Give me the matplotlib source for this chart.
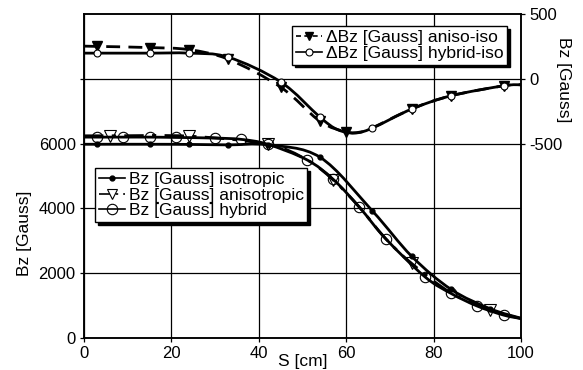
import matplotlib
matplotlib.use('Agg')
import matplotlib.pyplot as plt
from matplotlib.path import Path
from matplotlib.patches import PathPatch
from matplotlib.lines import Line2D
import numpy as np

plt.rcParams['font.family'] = ['Liberation Sans', 'DejaVu Sans']
plt.rcParams['font.size'] = 12

# ---------------- data (left axis: Bz [Gauss]) ----------------
S_iso = [0, 3, 15, 24, 33, 42, 54, 66, 75, 84, 93, 100]
Bz_iso = [5980, 5980, 5980, 5975, 5960, 5960, 5580, 3920, 2520, 1500, 900, 610]
mark_iso = [0, 1, 1, 1, 1, 1, 1, 1, 1, 1, 1, 0]

S_ani = [0, 6, 24, 42, 51, 57, 63, 69, 75, 84, 93, 100]
Bz_ani = [6240, 6240, 6230, 5980, 5500, 4880, 4040, 3070, 2300, 1390, 860, 600]
mark_ani = [0, 1, 1, 1, 0, 1, 0, 0, 1, 0, 1, 0]

S_hyb = [0, 3, 9, 15, 21, 30, 36, 42, 51, 57, 63, 69, 78, 84, 90, 96, 100]
Bz_hyb = [6200, 6200, 6200, 6200, 6190, 6170, 6130, 5980, 5500, 4900, 4040,
          3070, 1890, 1375, 985, 708, 600]
mark_hyb = [0, 1, 1, 1, 1, 1, 1, 1, 1, 1, 1, 1, 1, 1, 1, 1, 0]

# ---------------- data (right axis: dBz [Gauss]) ----------------
S_dai = [0, 3, 15, 24, 33, 45, 54, 60, 63, 66, 75, 84, 96, 100]
dBz_dai = [252, 250, 241, 225, 151, -64, -328, -410, -412, -378, -233, -131, -54, -46]
mark_dai = [0, 1, 1, 1, 1, 1, 1, 1, 0, 0, 1, 1, 1, 0]

S_dhi = [0, 3, 15, 24, 33, 45, 54, 58, 62, 66, 75, 84, 96, 100]
dBz_dhi = [198, 198, 198, 198, 167, -24, -296, -392, -418, -380, -233, -131, -54, -46]
mark_dhi = [0, 1, 1, 1, 1, 1, 1, 0, 0, 1, 1, 1, 1, 0]

x_ticks = [0, 20, 40, 60, 80, 100]
left_ticks = [0, 2000, 4000, 6000, 8000]
left_labels = ['0', '2000', '4000', '6000', '']
right_ticks = [-500, 0, 500]
right_labels = ['-500', '0', '500']

labels_left = ['Bz [Gauss] isotropic', 'Bz [Gauss] anisotropic', 'Bz [Gauss] hybrid']
labels_right = ['\u0394Bz [Gauss] aniso-iso', '\u0394Bz [Gauss] hybrid-iso']


def smooth(ax, xs, ys, **kw):
    pts = np.column_stack([xs, ys]).astype(float)
    n = len(pts)
    verts = [pts[0]]
    codes = [Path.MOVETO]
    for i in range(n - 1):
        p0 = pts[max(i - 1, 0)]
        p1 = pts[i]
        p2 = pts[i + 1]
        p3 = pts[min(i + 2, n - 1)]
        verts += [p1 + (p2 - p0) / 6.0, p2 - (p3 - p1) / 6.0, p2]
        codes += [Path.CURVE4] * 3
    patch = PathPatch(Path(verts, codes), fill=False, transform=ax.transData,
                      capstyle='butt', joinstyle='round', **kw)
    ax.add_patch(patch)


def markers(ax, xs, ys, mask, **kw):
    xm = [x for x, m in zip(xs, mask) if m]
    ym = [y for y, m in zip(ys, mask) if m]
    ax.plot(xm, ym, linestyle='none', color='k', **kw)


fig = plt.figure(figsize=(5.83, 3.70), dpi=100)
ax = fig.add_axes([84 / 583, 1 - 338 / 370, 437 / 583, 324 / 370])
ax2 = ax.twinx()

LW = 2.0
ani_ls = (0, (7, 3, 1.5, 3))
dai_ls = (0, (5, 3))

# left axis curves
smooth(ax, S_iso, Bz_iso, edgecolor='k', linewidth=LW, zorder=3)
smooth(ax, S_ani, Bz_ani, edgecolor='k', linewidth=LW, linestyle=ani_ls, zorder=3)
smooth(ax, S_hyb, Bz_hyb, edgecolor='k', linewidth=LW, zorder=3)
markers(ax, S_iso, Bz_iso, mark_iso, marker='o', ms=3.5, mfc='k', mec='k', zorder=4)
markers(ax, S_ani, Bz_ani, mark_ani, marker='v', ms=8, mfc='none', mec='k', mew=0.8, zorder=4)
markers(ax, S_hyb, Bz_hyb, mark_hyb, marker='o', ms=7.5, mfc='none', mec='k', mew=0.8, zorder=4)

# right axis curves
smooth(ax2, S_dai, dBz_dai, edgecolor='k', linewidth=LW, linestyle=dai_ls, zorder=3)
smooth(ax2, S_dhi, dBz_dhi, edgecolor='k', linewidth=LW, zorder=3)
markers(ax2, S_dai, dBz_dai, mark_dai, marker='v', ms=6.5, mfc='k', mec='k', zorder=4)
markers(ax2, S_dhi, dBz_dhi, mark_dhi, marker='o', ms=5, mfc='white', mec='k', mew=0.8, zorder=5)

ax.set_xlim(0, 100)
ax.set_ylim(0, 10000)
ax2.set_ylim(-2000, 500)
ax.set_xticks(x_ticks)
ax.set_xticklabels([str(v) for v in x_ticks])
ax.set_yticks(left_ticks)
ax.set_yticklabels(left_labels)
ax2.set_yticks(right_ticks)
ax2.set_yticklabels(right_labels)

ax.grid(True, color='k', linewidth=0.9)
ax.set_axisbelow(True)
for a in (ax, ax2):
    for sp in a.spines.values():
        sp.set_linewidth(1.1)
ax.tick_params(axis='both', direction='out', length=3, width=0.9, pad=3, labelsize=12)
ax2.tick_params(axis='y', direction='out', length=3, width=0.9, pad=3, labelsize=12)

ax.set_xlabel('S [cm]', fontsize=12.5)
ax.xaxis.set_label_coords(0.5, -0.048)
ax.set_ylabel('Bz [Gauss]', fontsize=12.5, va='center', ha='center')
ax.yaxis.label.set_rotation_mode('default')
ax.yaxis.set_label_coords((25 - 84) / 437, (338 - 233) / 324)

ax2.set_ylabel('Bz [Gauss]', fontsize=12.5, rotation=-90)
ax2.yaxis.label.set_rotation_mode('default')
ax2.yaxis.label.set_va('center')
ax2.yaxis.label.set_ha('center')
ax2.yaxis.set_label_coords((563 - 84) / 437, (338 - 80) / 324)

# legends
LFS = 12.6
shadow = {'color': 'k', 'alpha': 1}
h_iso = Line2D([], [], color='k', lw=1.2, marker='o', ms=3.5, mfc='k')
h_ani = Line2D([], [], color='k', lw=1.2, ls=ani_ls, marker='v', ms=7, mfc='white', mew=0.8)
h_hyb = Line2D([], [], color='k', lw=1.2, marker='o', ms=7.5, mfc='none', mew=0.8)
leg1 = ax.legend([h_iso, h_ani, h_hyb], labels_left, loc='upper left',
                 bbox_to_anchor=(95 / 583, 1 - 168 / 370), bbox_transform=fig.transFigure,
                 fancybox=False, edgecolor='k', framealpha=1, shadow=shadow,
                 handlelength=1.5, handletextpad=0.2, labelspacing=0.02, borderpad=0.22,
                 borderaxespad=0, fontsize=LFS)
leg1.get_frame().set_linewidth(1.0)
leg1.set_zorder(10)

h_dai = Line2D([], [], color='k', lw=1.2, ls=(0, (3, 2)), marker='v', ms=6, mfc='k')
h_dhi = Line2D([], [], color='k', lw=1.2, marker='o', ms=5, mfc='white', mew=0.8)
leg2 = ax2.legend([h_dai, h_dhi], labels_right, loc='upper left',
                  bbox_to_anchor=(292 / 583, 1 - 26 / 370), bbox_transform=fig.transFigure,
                  fancybox=False, edgecolor='k', framealpha=1, shadow=shadow,
                  handlelength=1.5, handletextpad=0.2, labelspacing=0.02, borderpad=0.22,
                  borderaxespad=0, fontsize=LFS)
leg2.get_frame().set_linewidth(1.0)
leg2.set_zorder(10)

fig.savefig('out.png', dpi=100)
